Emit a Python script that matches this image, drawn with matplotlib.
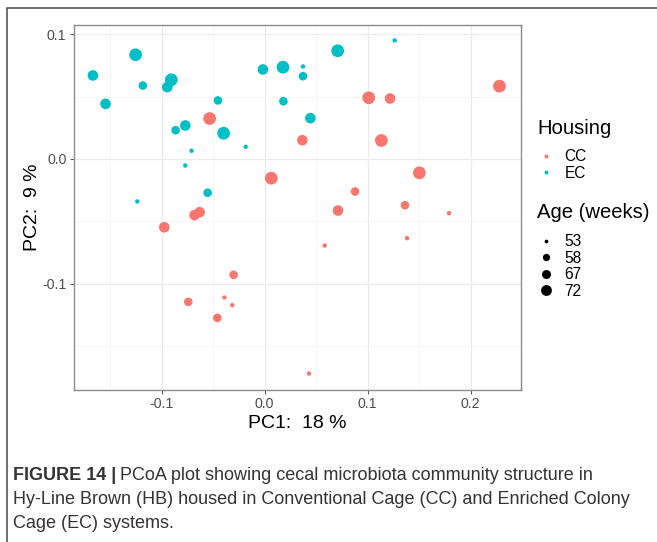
import numpy as np
import matplotlib.pyplot as plt
from matplotlib.lines import Line2D

plt.rcParams["font.family"] = ["Liberation Sans", "DejaVu Sans"]

# PCoA coordinates (PC1, PC2) and bird age per sample
cc_pc1 = [-0.0534, 0.0065, -0.0680, -0.0631, -0.0974, -0.0301, -0.0741, -0.0391,
          -0.0314, -0.0459, 0.1010, 0.1217, 0.2279, 0.0366, 0.1133, 0.1502,
          0.0877, 0.0712, 0.1362, 0.1789, 0.0583, 0.1382, 0.0430]
cc_pc2 = [0.0325, -0.0154, -0.0451, -0.0427, -0.0548, -0.0930, -0.1147, -0.1112,
          -0.1174, -0.1276, 0.0492, 0.0486, 0.0585, 0.0151, 0.0149, -0.0111,
          -0.0261, -0.0414, -0.0371, -0.0435, -0.0695, -0.0636, -0.1723]
cc_age = [72, 72, 67, 67, 67, 58, 58, 53, 53, 58, 72, 67, 72, 67, 72, 72,
          58, 67, 58, 53, 53, 53, 53]

ec_pc1 = [-0.1667, -0.1544, -0.1252, -0.1182, -0.0906, -0.0945, -0.0453, -0.0770,
          -0.0864, -0.0398, -0.0709, -0.0184, -0.0770, -0.1236, -0.0553, -0.0017,
          0.0178, 0.0182, 0.0372, 0.0372, 0.0709, 0.1262, 0.0444]
ec_pc2 = [0.0671, 0.0443, 0.0837, 0.0590, 0.0636, 0.0577, 0.0470, 0.0269,
          0.0231, 0.0207, 0.0066, 0.0098, -0.0052, -0.0341, -0.0271, 0.0719,
          0.0737, 0.0464, 0.0743, 0.0665, 0.0869, 0.0952, 0.0328]
ec_age = [67, 67, 72, 58, 72, 67, 58, 67, 58, 72, 53, 53, 53, 53, 58, 67,
          72, 58, 53, 58, 72, 53, 67]

ages = [53, 58, 67, 72]
age_size = {53: 10, 58: 38, 67: 58, 72: 84}
colors = {"CC": "#F8766D", "EC": "#00BFC4"}

W, H = 657, 542
fig = plt.figure(figsize=(W / 100, H / 100), dpi=100)

# panel placed in pixel units
l, r, t, b = 73.5, 520.7, 24.5, 390
ax = fig.add_axes([l / W, 1 - b / H, (r - l) / W, (b - t) / H])

for grp, xs, ys, ag in [("CC", cc_pc1, cc_pc2, cc_age), ("EC", ec_pc1, ec_pc2, ec_age)]:
    ax.scatter(xs, ys, s=[age_size[a] for a in ag], color=colors[grp],
               linewidths=0, zorder=3)

ax.set_xlim(-0.1855, 0.2485)
ax.set_ylim(-0.1855, 0.1080)
ax.set_xticks([-0.1, 0.0, 0.1, 0.2])
ax.set_xticklabels(["-0.1", "0.0", "0.1", "0.2"])
ax.set_yticks([-0.1, 0.0, 0.1])
ax.set_yticklabels(["-0.1", "0.0", "0.1"])
ax.set_xticks([-0.15, -0.05, 0.05, 0.15], minor=True)
ax.set_yticks([-0.15, -0.05, 0.05], minor=True)
ax.grid(True, which="major", color="#ebebeb", lw=0.9)
ax.grid(True, which="minor", color="#f2f2f2", lw=0.5)
ax.set_axisbelow(True)
ax.tick_params(which="major", length=3, width=0.7, color="#555555",
               labelsize=10.2, labelcolor="#4d4d4d", pad=2)
ax.tick_params(which="minor", length=0)
for s in ax.spines.values():
    s.set_color("#8c8c8c")
    s.set_linewidth(1.0)
ax.set_xlabel("PC1:  18 %", fontsize=14, labelpad=3)
ax.set_ylabel("PC2:  9 %", fontsize=14, labelpad=1)

# legends: titles as plain text, keys through fig.legend
leg_kw = dict(loc="upper left", frameon=False, fontsize=11.2, handlelength=1.0,
              handletextpad=0.7, labelspacing=0.1, borderpad=0, borderaxespad=0)

fig.text(537 / W, 1 - 128 / H, "Housing", fontsize=14.6, va="center")
h_house = [Line2D([], [], marker="o", ls="", ms=2.8, mew=0, color=colors[g]) for g in ["CC", "EC"]]
fig.legend(h_house, ["CC", "EC"], bbox_to_anchor=(538 / W, 1 - 149 / H), **leg_kw)

fig.text(537 / W, 1 - 212 / H, "Age (weeks)", fontsize=14.6, va="center")
h_age = [Line2D([], [], marker="o", ls="", ms=np.sqrt(age_size[a]) * 0.85, mew=0, color="black")
         for a in ages]
fig.legend(h_age, [str(a) for a in ages], bbox_to_anchor=(538 / W, 1 - 234 / H), **leg_kw)

# outer frame (top and left rules)
fig.add_artist(Line2D([7 / W, 7 / W, 1], [0, 1 - 8 / H, 1 - 8 / H],
                      transform=fig.transFigure, color="#555555", lw=1.2))

# caption
cap_font = dict(fontsize=13.0, color="#333333", va="center")
bold = fig.text(13 / W, 1 - 475 / H, "FIGURE 14 |", fontweight="bold", **cap_font)
fig.canvas.draw()
bb = bold.get_window_extent()
fig.text((bb.x1 + 4) / W, 1 - 475 / H,
         "PCoA plot showing cecal microbiota community structure in", **cap_font)
fig.text(13 / W, 1 - 499 / H,
         "Hy-Line Brown (HB) housed in Conventional Cage (CC) and Enriched Colony", **cap_font)
fig.text(13 / W, 1 - 523 / H, "Cage (EC) systems.", **cap_font)

fig.savefig("out.png", dpi=100)
